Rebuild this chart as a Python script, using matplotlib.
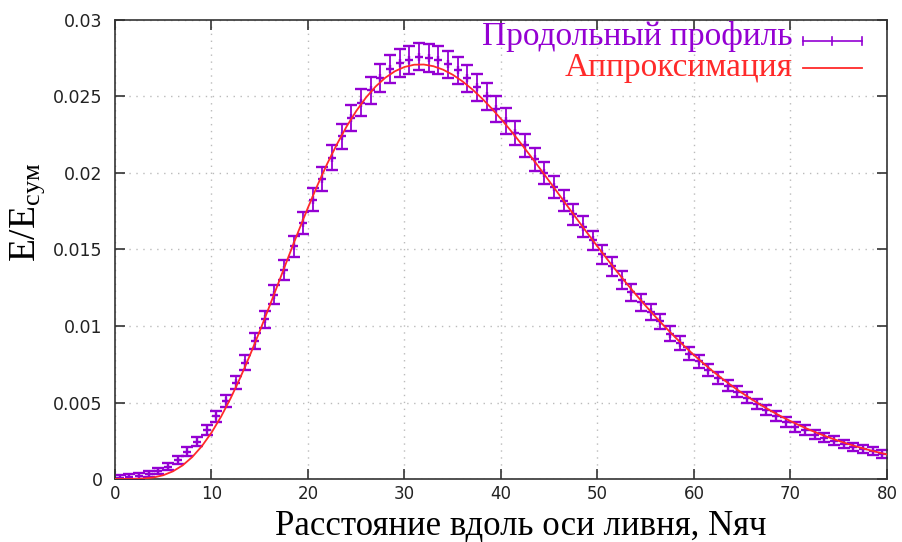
import matplotlib
matplotlib.use("Agg")
import matplotlib.pyplot as plt
from matplotlib.lines import Line2D

# ---- data ----
x_data = [i + 0.5 for i in range(80)]
y_data = [0.00008, 0.00012, 0.0002, 0.00032, 0.00052, 0.0008, 0.00122, 0.00178, 0.00244, 0.0032,
          0.0041, 0.0051, 0.0063, 0.0076, 0.0090, 0.01044, 0.01205, 0.01366, 0.0152, 0.01675,
          0.01824, 0.0196, 0.0210, 0.0224, 0.0236, 0.0246, 0.0254, 0.0262, 0.0268, 0.0272,
          0.0274, 0.0276, 0.0275, 0.0274, 0.0271, 0.0267, 0.0262, 0.0256, 0.0250, 0.0242,
          0.0234, 0.0226, 0.0218, 0.0209, 0.0200, 0.0191, 0.0182, 0.0173, 0.0165, 0.0156,
          0.0147, 0.0139, 0.0130, 0.0122, 0.01155, 0.0109, 0.0103, 0.0095, 0.0089, 0.0082,
          0.0077, 0.0071, 0.0066, 0.0061, 0.0057, 0.0053, 0.0049, 0.0045, 0.0041, 0.00375,
          0.0034, 0.0032, 0.0029, 0.0027, 0.0025, 0.0023, 0.0021, 0.00195, 0.0018, 0.00165]
y_err = [0.0002, 0.0002, 0.0002, 0.0002, 0.00022, 0.00024, 0.00026, 0.00028, 0.0003, 0.00033,
         0.00036, 0.0004, 0.00044, 0.00048, 0.00052, 0.00056, 0.0006, 0.00064, 0.00068, 0.00072,
         0.00075, 0.00078, 0.0008, 0.00082, 0.00084, 0.00086, 0.00088, 0.0009, 0.0009, 0.0009,
         0.0009, 0.0009, 0.0009, 0.0009, 0.0009, 0.0009, 0.00089, 0.00088, 0.00086, 0.00084,
         0.00082, 0.0008, 0.00078, 0.00076, 0.00074, 0.00072, 0.0007, 0.00068, 0.00066, 0.00064,
         0.00062, 0.0006, 0.00058, 0.00056, 0.00054, 0.00052, 0.0005, 0.00048, 0.00046, 0.00044,
         0.00042, 0.0004, 0.00039, 0.00038, 0.00037, 0.00036, 0.00035, 0.00034, 0.00033, 0.00032,
         0.00031, 0.0003, 0.00029, 0.00028, 0.00028, 0.00027, 0.00027, 0.00026, 0.00026, 0.00025]

x_fit = list(range(81))
y_fit = [0.0, 0.0, 0.0000052, 0.00003, 0.0001, 0.000247, 0.0005, 0.000888, 0.001433, 0.002146,
         0.003031, 0.004086, 0.005299, 0.006649, 0.008115, 0.009666, 0.011279, 0.012917, 0.014564, 0.016178,
         0.017743, 0.019226, 0.020618, 0.021882, 0.02304, 0.024052, 0.024925, 0.025647, 0.026222, 0.026649,
         0.026931, 0.027077, 0.02709, 0.026979, 0.026753, 0.026422, 0.025994, 0.025482, 0.024894, 0.024241,
         0.023532, 0.022778, 0.021985, 0.021163, 0.020322, 0.019466, 0.018603, 0.01774, 0.016879, 0.016029,
         0.015192, 0.014372, 0.013571, 0.012791, 0.012038, 0.01131, 0.01061, 0.009938, 0.009295, 0.008682,
         0.008099, 0.007544, 0.007019, 0.006523, 0.006054, 0.005613, 0.005198, 0.004808, 0.004443, 0.004102,
         0.003783, 0.003486, 0.003208, 0.002951, 0.002712, 0.002489, 0.002284, 0.002093, 0.001917, 0.001754,
         0.001604]

x_ticks = [0, 10, 20, 30, 40, 50, 60, 70, 80]
y_ticks = [0, 0.005, 0.01, 0.015, 0.02, 0.025, 0.03]
y_tick_labels = ["0", "0.005", "0.01", "0.015", "0.02", "0.025", "0.03"]

label_data = "Продольный профиль"
label_fit = "Аппроксимация"
x_label = "Расстояние вдоль оси ливня, Nяч"
y_label = r"E/E$_{\mathrm{сум}}$"

PURPLE = "#9400d3"
RED = "#ff2a2a"

plt.rcParams["mathtext.fontset"] = "custom"
plt.rcParams["mathtext.rm"] = "Liberation Serif"
plt.rcParams["mathtext.it"] = "Liberation Serif:italic"

fig = plt.figure(figsize=(9.03, 5.42), dpi=100)
ax = fig.add_axes([115 / 903, 63 / 542, 772 / 903, 459 / 542])

ax.errorbar(x_data, y_data, yerr=y_err, fmt="+", color=PURPLE, ms=6, mew=1.7,
            elinewidth=1.3, capsize=4.5, capthick=1.3, zorder=2)
ax.plot(x_fit, y_fit, color=RED, lw=1.3, zorder=3)

ax.set_xlim(0, 80)
ax.set_ylim(0, 0.03)
ax.set_xticks(x_ticks)
ax.set_xticklabels([str(v) for v in x_ticks])
ax.set_yticks(y_ticks)
ax.set_yticklabels(y_tick_labels)
ax.tick_params(direction="in", length=7, width=1.2, top=True, right=True,
               labelsize=12.5, labelcolor="#222222", pad=9, color="#333333")
ax.tick_params(axis="x", labelsize=12, pad=4)
ax.grid(True, color="#bbbbbb", linestyle=(0, (1, 4)), lw=1)
for s in ax.spines.values():
    s.set_color("#333333")
    s.set_linewidth(1.2)

ax.set_xlabel(x_label, family="Liberation Serif", fontsize=25, va="baseline")
ax.xaxis.set_label_coords((521 - 115) / 772, (479 - 534.5) / 459)
ax.set_ylabel(y_label, family="Liberation Serif", fontsize=27)
ax.yaxis.set_label_coords((47 - 115) / 772, (479 - 212) / 459)

# legend (gnuplot style)
ax.text((793 - 115) / 772, 1 - (37 - 20) / 459, label_data,
        transform=ax.transAxes, ha="right", va="center", color=PURPLE,
        family="Liberation Serif", fontsize=24)
ax.text((793 - 115) / 772, 1 - (68 - 20) / 459, label_fit,
        transform=ax.transAxes, ha="right", va="center", color=RED,
        family="Liberation Serif", fontsize=24)
lx0, lx1 = (803 - 115) / 772, (862 - 115) / 772
ly1 = 1 - (41 - 20) / 459
ly2 = 1 - (68 - 20) / 459
ax.add_line(Line2D([lx0, lx1], [ly1, ly1], transform=ax.transAxes, color=PURPLE, lw=1.2, clip_on=False))
for xx in (lx0, (lx0 + lx1) / 2, lx1):
    ax.add_line(Line2D([xx, xx], [ly1 - 0.009, ly1 + 0.009], transform=ax.transAxes,
                       color=PURPLE, lw=1.2, clip_on=False))
ax.add_line(Line2D([lx0, lx1], [ly2, ly2], transform=ax.transAxes, color=RED, lw=1.3, clip_on=False))

fig.savefig("out.png", dpi=100)
